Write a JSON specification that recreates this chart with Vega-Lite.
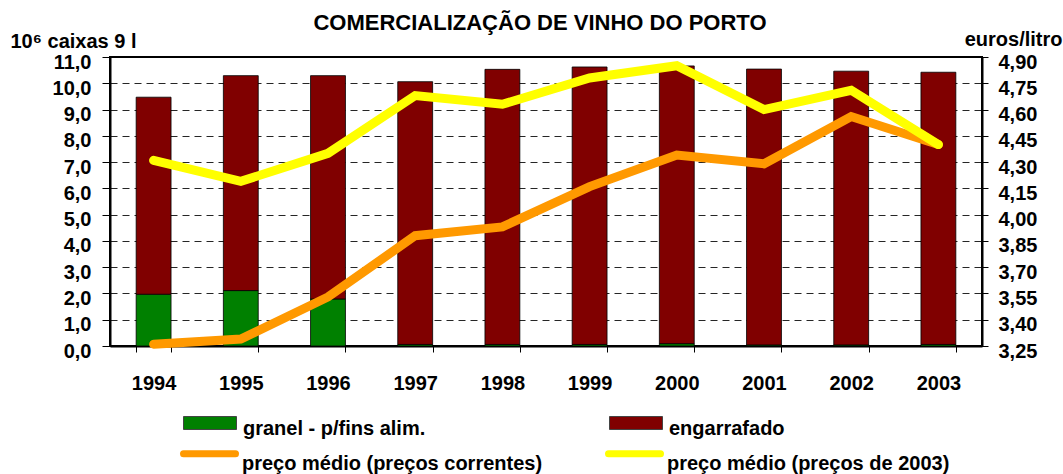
{
  "$schema": "https://vega.github.io/schema/vega-lite/v6.json",
  "width": 872,
  "height": 289,
  "autosize": {"type": "none"},
  "padding": {"left": 110, "top": 57, "right": 81, "bottom": 128},
  "background": "#ffffff",
  "title": {
    "text": "COMERCIALIZAÇÃO DE VINHO DO PORTO",
    "font": "Liberation Sans",
    "fontSize": 22,
    "fontWeight": "bold",
    "color": "#000",
    "anchor": "middle",
    "dx": -6,
    "offset": -6
  },
  "datasets": {
    "caixas": [
      {"ano": "1994", "serie": "granel - p/fins alim.", "valor": 1.97},
      {"ano": "1994", "serie": "engarrafado", "valor": 7.50},
      {"ano": "1995", "serie": "granel - p/fins alim.", "valor": 2.11},
      {"ano": "1995", "serie": "engarrafado", "valor": 8.18},
      {"ano": "1996", "serie": "granel - p/fins alim.", "valor": 1.79},
      {"ano": "1996", "serie": "engarrafado", "valor": 8.50},
      {"ano": "1997", "serie": "granel - p/fins alim.", "valor": 0.06},
      {"ano": "1997", "serie": "engarrafado", "valor": 10.00},
      {"ano": "1998", "serie": "granel - p/fins alim.", "valor": 0.06},
      {"ano": "1998", "serie": "engarrafado", "valor": 10.47},
      {"ano": "1999", "serie": "granel - p/fins alim.", "valor": 0.06},
      {"ano": "1999", "serie": "engarrafado", "valor": 10.56},
      {"ano": "2000", "serie": "granel - p/fins alim.", "valor": 0.09},
      {"ano": "2000", "serie": "engarrafado", "valor": 10.57},
      {"ano": "2001", "serie": "granel - p/fins alim.", "valor": 0.04},
      {"ano": "2001", "serie": "engarrafado", "valor": 10.50},
      {"ano": "2002", "serie": "granel - p/fins alim.", "valor": 0.04},
      {"ano": "2002", "serie": "engarrafado", "valor": 10.42},
      {"ano": "2003", "serie": "granel - p/fins alim.", "valor": 0.06},
      {"ano": "2003", "serie": "engarrafado", "valor": 10.36}
    ],
    "precos": [
      {"ano": "1994", "serie": "preço médio (preços correntes)", "preco": 3.26},
      {"ano": "1995", "serie": "preço médio (preços correntes)", "preco": 3.29},
      {"ano": "1996", "serie": "preço médio (preços correntes)", "preco": 3.53},
      {"ano": "1997", "serie": "preço médio (preços correntes)", "preco": 3.88},
      {"ano": "1998", "serie": "preço médio (preços correntes)", "preco": 3.93},
      {"ano": "1999", "serie": "preço médio (preços correntes)", "preco": 4.16},
      {"ano": "2000", "serie": "preço médio (preços correntes)", "preco": 4.34},
      {"ano": "2001", "serie": "preço médio (preços correntes)", "preco": 4.29},
      {"ano": "2002", "serie": "preço médio (preços correntes)", "preco": 4.56},
      {"ano": "2003", "serie": "preço médio (preços correntes)", "preco": 4.40},
      {"ano": "1994", "serie": "preço médio (preços de 2003)", "preco": 4.31},
      {"ano": "1995", "serie": "preço médio (preços de 2003)", "preco": 4.19},
      {"ano": "1996", "serie": "preço médio (preços de 2003)", "preco": 4.35},
      {"ano": "1997", "serie": "preço médio (preços de 2003)", "preco": 4.68},
      {"ano": "1998", "serie": "preço médio (preços de 2003)", "preco": 4.63},
      {"ano": "1999", "serie": "preço médio (preços de 2003)", "preco": 4.78},
      {"ano": "2000", "serie": "preço médio (preços de 2003)", "preco": 4.85},
      {"ano": "2001", "serie": "preço médio (preços de 2003)", "preco": 4.60},
      {"ano": "2002", "serie": "preço médio (preços de 2003)", "preco": 4.71},
      {"ano": "2003", "serie": "preço médio (preços de 2003)", "preco": 4.40}
    ]
  },
  "layer": [
    {
      "data": {"name": "caixas"},
      "mark": {"type": "bar", "stroke": "#000000", "strokeWidth": 1, "strokeOpacity": 0.8},
      "encoding": {
        "x": {
          "field": "ano",
          "type": "nominal",
          "scale": {"paddingInner": 0.6, "paddingOuter": 0.3},
          "axis": {
            "title": null,
            "labelAngle": 0,
            "labelFont": "Liberation Sans",
            "labelFontSize": 20,
            "labelFontWeight": "bold",
            "labelColor": "#000",
            "labelPadding": 21,
            "tickBand": "extent",
            "tickSize": 6,
            "tickColor": "#000",
            "tickWidth": 1,
            "domainColor": "#000",
            "domainWidth": 2,
            "grid": false
          }
        },
        "y": {
          "field": "valor",
          "type": "quantitative",
          "stack": "zero",
          "scale": {"domain": [0, 11], "nice": false, "zero": true},
          "axis": {
            "title": "10⁶ caixas 9 l",
            "titleAngle": 0,
            "titleX": -100,
            "titleY": -10,
            "titleAlign": "left",
            "titleBaseline": "alphabetic",
            "titleFont": "Liberation Sans",
            "titleFontSize": 20,
            "titleFontWeight": "bold",
            "titleColor": "#000",
            "values": [0, 1, 2, 3, 4, 5, 6, 7, 8, 9, 10, 11],
            "labelExpr": "replace(format(datum.value, '.1f'), '.', ',')",
            "labelFont": "Liberation Sans",
            "labelFontSize": 20,
            "labelFontWeight": "bold",
            "labelColor": "#000",
            "labelPadding": 11,
            "labelOffset": 5,
            "labelFlush": false,
            "labelOverlap": false,
            "tickSize": 8,
            "tickColor": "#000",
            "tickWidth": 1,
            "domainColor": "#000",
            "domainWidth": 2,
            "grid": true,
            "gridColor": "#000",
            "gridDash": [7, 5],
            "gridWidth": 1,
            "gridOpacity": 0.85
          }
        },
        "fill": {
          "field": "serie",
          "type": "nominal",
          "scale": {"domain": ["granel - p/fins alim.", "engarrafado"], "range": ["#008000", "#800000"]},
          "legend": {
            "title": null,
            "orient": "none",
            "direction": "horizontal",
            "legendX": 73,
            "legendY": 339,
            "padding": 0,
            "columnPadding": 181,
            "symbolType": "M-1,-0.245H1V0.245H-1Z",
            "symbolSize": 2809,
            "symbolStrokeColor": "#444",
            "symbolStrokeWidth": 1,
            "symbolOpacity": 1,
            "labelOffset": 6,
            "labelFont": "Liberation Sans",
            "labelFontSize": 20,
            "labelFontWeight": "bold",
            "labelColor": "#000",
            "labelLimit": 0,
            "encode": {"labels": {"update": {"dy": {"value": 6}}}}
          }
        },
        "order": {"field": "serie", "sort": "descending"}
      }
    },
    {
      "data": {"name": "precos"},
      "mark": {"type": "line", "strokeWidth": 9, "strokeCap": "round", "strokeJoin": "miter"},
      "encoding": {
        "x": {"field": "ano", "type": "nominal"},
        "y": {
          "field": "preco",
          "type": "quantitative",
          "scale": {"domain": [3.25, 4.9], "nice": false, "zero": false},
          "axis": {
            "orient": "right",
            "title": "euros/litro",
            "titleAngle": 0,
            "titleX": 80,
            "titleY": -12,
            "titleAlign": "right",
            "titleBaseline": "alphabetic",
            "titleFont": "Liberation Sans",
            "titleFontSize": 20,
            "titleFontWeight": "bold",
            "titleColor": "#000",
            "values": [3.25, 3.4, 3.55, 3.7, 3.85, 4.0, 4.15, 4.3, 4.45, 4.6, 4.75, 4.9],
            "labelExpr": "replace(format(datum.value, '.2f'), '.', ',')",
            "labelFont": "Liberation Sans",
            "labelFontSize": 20,
            "labelFontWeight": "bold",
            "labelColor": "#000",
            "labelPadding": 10,
            "labelOffset": 5,
            "labelFlush": false,
            "labelOverlap": false,
            "tickSize": 6,
            "tickColor": "#000",
            "tickWidth": 1,
            "domainColor": "#000",
            "domainWidth": 2,
            "grid": false
          }
        },
        "stroke": {
          "field": "serie",
          "type": "nominal",
          "scale": {"domain": ["preço médio (preços correntes)", "preço médio (preços de 2003)"], "range": ["#FF9900", "#FFFF00"]},
          "legend": {
            "title": null,
            "orient": "none",
            "direction": "horizontal",
            "legendX": 70,
            "legendY": 367,
            "padding": 0,
            "columnPadding": 51,
            "symbolType": "M-1,0H1",
            "symbolSize": 2704,
            "symbolStrokeWidth": 7,
            "labelOffset": 3,
            "labelFont": "Liberation Sans",
            "labelFontSize": 20,
            "labelFontWeight": "bold",
            "labelColor": "#000",
            "labelLimit": 0,
            "encode": {
              "symbols": {"update": {"strokeCap": {"value": "round"}}},
              "labels": {"update": {"dy": {"value": 10}}}
            }
          }
        }
      }
    }
  ],
  "resolve": {"scale": {"y": "independent"}},
  "config": {
    "view": {"stroke": "#000", "strokeWidth": 2},
    "font": "Liberation Sans"
  }
}
